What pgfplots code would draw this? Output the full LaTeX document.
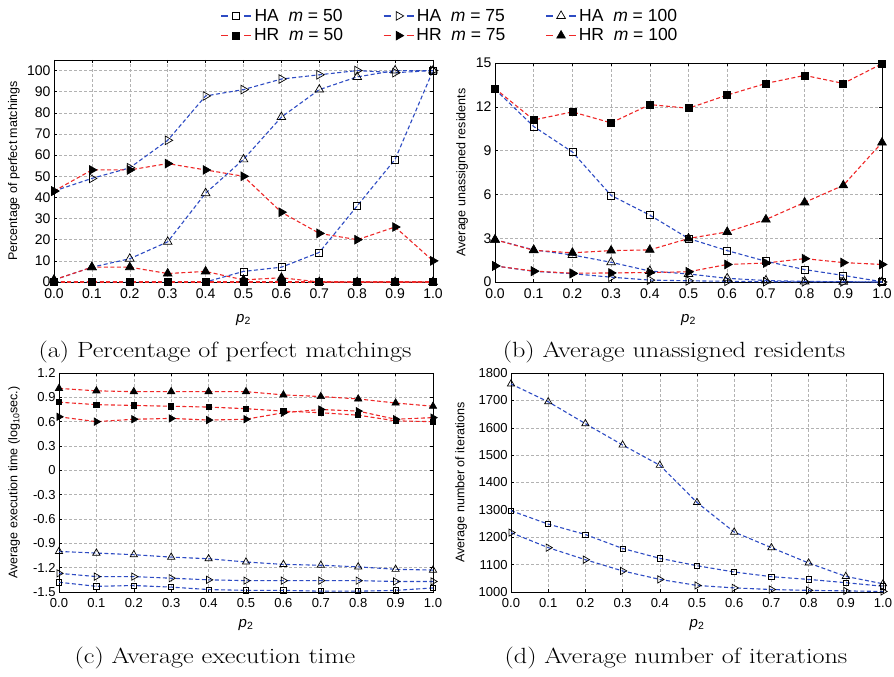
\documentclass[border=0pt]{standalone}
\usepackage{fontspec}
\setsansfont{Liberation Sans}
\usepackage{pgfplots}
\usepackage{pgfplotstable}
\pgfplotsset{compat=1.18}
\definecolor{hablue}{RGB}{45,75,195}
\definecolor{hrred}{RGB}{238,40,40}

\pgfplotstableread{
x ha50 ha75 ha100 hr50 hr75 hr100
0.0 0 43 1 0 43 1
0.1 0 49 7 0 53 7
0.2 0 54 11 0 53 7
0.3 0 67 19 0 56 4
0.4 0 88 42 0 53 5
0.5 5 91 58 0 50 1
0.6 7 96 78 0 33 2
0.7 14 98 91 0 23 0
0.8 36 100 97 0 20 0
0.9 58 99 100 0 26 0
1.0 100 100 100 0 10 0
}\tabA
\pgfplotstableread{
x ha50 ha75 ha100 hr50 hr75 hr100
0.0 13.2 1.1 2.9 13.25 1.1 2.9
0.1 10.65 0.73 2.2 11.1 0.75 2.17
0.2 8.9 0.57 1.85 11.65 0.6 2.0
0.3 5.93 0.33 1.35 10.9 0.62 2.15
0.4 4.58 0.13 0.75 12.15 0.65 2.2
0.5 2.98 0.08 0.55 11.9 0.7 2.98
0.6 2.15 0.05 0.25 12.8 1.2 3.43
0.7 1.42 0.02 0.1 13.6 1.3 4.28
0.8 0.85 0.01 0.04 14.15 1.6 5.45
0.9 0.45 0.01 0.02 13.6 1.33 6.62
1.0 0.02 0.0 0.0 14.95 1.2 9.55
}\tabB
\pgfplotstableread{
x ha50 ha75 ha100 hr50 hr75 hr100
0.0 -1.38 -1.27 -1.00 0.84 0.66 1.01
0.1 -1.43 -1.31 -1.02 0.81 0.60 0.98
0.2 -1.42 -1.31 -1.04 0.80 0.63 0.97
0.3 -1.44 -1.33 -1.07 0.79 0.64 0.97
0.4 -1.47 -1.35 -1.09 0.78 0.62 0.97
0.5 -1.48 -1.36 -1.13 0.76 0.63 0.97
0.6 -1.48 -1.36 -1.16 0.73 0.71 0.93
0.7 -1.49 -1.36 -1.17 0.71 0.75 0.91
0.8 -1.49 -1.36 -1.19 0.68 0.73 0.88
0.9 -1.48 -1.37 -1.22 0.61 0.63 0.83
1.0 -1.45 -1.37 -1.23 0.60 0.65 0.79
}\tabC
\pgfplotstableread{
x ha50 ha75 ha100
0.0 1297 1217 1760
0.1 1248 1162 1695
0.2 1210 1118 1615
0.3 1159 1077 1537
0.4 1123 1046 1463
0.5 1096 1024 1327
0.6 1073 1015 1219
0.7 1056 1009 1162
0.8 1046 1006 1106
0.9 1034 1004 1057
1.0 1021 1002 1030
}\tabD

\def\sqsz{3.5bp}
\def\trsz{5bp}
\def\tkfont{\sffamily\fontsize{14bp}{16bp}\selectfont}
\pgfplotsset{
  base/.style={
    scale only axis, clip=false,
    xmin=0, xmax=1,
    xtick={0,0.1,0.2,0.3,0.4,0.5,0.6,0.7,0.8,0.9,1},
    xticklabel style={/pgf/number format/fixed,/pgf/number format/fixed zerofill,/pgf/number format/precision=1, yshift=-3bp},
    /pgf/number format/assume math mode=true,
    grid=major,
    major grid style={gray!60, dash pattern=on 3bp off 2bp, line width=0.5bp},
    tick align=inside, major tick length=3bp,
    tick style={black, line width=0.5bp},
    axis line style={black, line width=0.7bp},
    ticklabel style={font=\tkfont},
    xlabel={\textit{p}\textsubscript{2}},
    xlabel style={font=\sffamily\fontsize{15bp}{17bp}\selectfont, anchor=center},
    ylabel style={font=\sffamily\fontsize{12.5bp}{14bp}\selectfont, anchor=center},
  },
  legimg/.style={legend image code/.code={%
    \draw[draw=#1, solid, line width=1.4bp] (0bp,0bp) -- (7bp,0bp);
    \draw[draw=#1, solid, line width=1.4bp] (23bp,0bp) -- (30bp,0bp);
    \draw[##1, draw=none] plot coordinates {(15bp,0bp)};}},
  ha/.style={draw=hablue, line width=1.1bp, dash pattern=on 4bp off 2.5bp, legimg=hablue},
  hr/.style={draw=hrred, line width=1.1bp, dash pattern=on 4bp off 2.5bp, legimg=hrred},
  HA50/.style={ha, mark=square, mark options={solid, draw=black, fill=none, line width=0.7bp, mark size=\sqsz}},
  HR50/.style={hr, mark=square*, mark options={solid, draw=black, fill=black, line width=0.7bp, mark size=\sqsz}},
  HA75/.style={ha, mark=triangle, mark options={solid, rotate=-90, draw=black, fill=none, line width=0.7bp, mark size=\trsz}},
  HR75/.style={hr, mark=triangle*, mark options={solid, rotate=-90, draw=black, fill=black, line width=0.7bp, mark size=\trsz}},
  HA100/.style={ha, mark=triangle, mark options={solid, draw=black, fill=none, line width=0.7bp, mark size=\trsz}},
  HR100/.style={hr, mark=triangle*, mark options={solid, draw=black, fill=black, line width=0.7bp, mark size=\trsz}},
}

\begin{document}
\begin{tikzpicture}
\useasboundingbox (0bp,0bp) rectangle (894bp,677bp);

% (a)
\begin{axis}[base, at={(54bp,395bp)}, anchor=south west, width=379bp, height=222bp,
  ymin=0, ymax=105, ytick={0,10,...,100},
  xlabel style={at={(axis description cs:0.5,-0.171)}},
  ylabel={Percentage of perfect matchings},
  ylabel style={at={(axis description cs:-0.106,0.5)}},
  legend columns=3,
  legend style={at={(axis description cs:1.045,1.06)}, anchor=south, draw=none, fill=none,
    font=\sffamily\fontsize{17.5bp}{19bp}\selectfont,
    /tikz/every even column/.append style={column sep=38bp},
    row sep=2bp},
]
\addplot[HA50] table[x=x,y=ha50]{\tabA}; \addlegendentry{HA~~\textit{m} = 50}
\addplot[HA75] table[x=x,y=ha75]{\tabA}; \addlegendentry{HA~~\textit{m} = 75}
\addplot[HA100] table[x=x,y=ha100]{\tabA}; \addlegendentry{HA~~\textit{m} = 100}
\addplot[HR50] table[x=x,y=hr50]{\tabA}; \addlegendentry{HR~~\textit{m} = 50}
\addplot[HR75] table[x=x,y=hr75]{\tabA}; \addlegendentry{HR~~\textit{m} = 75}
\addplot[HR100] table[x=x,y=hr100]{\tabA}; \addlegendentry{HR~~\textit{m} = 100}
\end{axis}

% (b)
\begin{axis}[base, at={(495bp,395bp)}, anchor=south west, width=387bp, height=219bp,
  ymin=0, ymax=15, ytick={0,3,...,15},
  xlabel style={at={(axis description cs:0.5,-0.174)}},
  ylabel={Average unassigned residents},
  ylabel style={at={(axis description cs:-0.085,0.5)}},
]
\addplot[HA50] table[x=x,y=ha50]{\tabB};
\addplot[HA75] table[x=x,y=ha75]{\tabB};
\addplot[HA100] table[x=x,y=ha100]{\tabB};
\addplot[HR50] table[x=x,y=hr50]{\tabB};
\addplot[HR75] table[x=x,y=hr75]{\tabB};
\addplot[HR100] table[x=x,y=hr100]{\tabB};
\end{axis}

\def\sqsz{2.6bp}
\def\trsz{4.2bp}
\def\tkfont{\sffamily\fontsize{13bp}{15bp}\selectfont}
% (c)
\begin{axis}[base, at={(59bp,85bp)}, anchor=south west, width=374bp, height=219bp,
  ymin=-1.5, ymax=1.2, ytick={-1.5,-1.2,-0.9,-0.6,-0.3,0,0.3,0.6,0.9,1.2},
  yticklabel style={/pgf/number format/fixed,/pgf/number format/precision=1},
  xlabel style={at={(axis description cs:0.5,-0.151)}},
  ylabel={Average execution time (log\textsubscript{10}sec.)},
  ylabel style={at={(axis description cs:-0.12,0.5)}},
]
\addplot[HA50] table[x=x,y=ha50]{\tabC};
\addplot[HA75] table[x=x,y=ha75]{\tabC};
\addplot[HA100] table[x=x,y=ha100]{\tabC};
\addplot[HR50] table[x=x,y=hr50]{\tabC};
\addplot[HR75] table[x=x,y=hr75]{\tabC};
\addplot[HR100] table[x=x,y=hr100]{\tabC};
\end{axis}

% (d)
\begin{axis}[base, at={(511bp,85bp)}, anchor=south west, width=372bp, height=219bp,
  ymin=1000, ymax=1800, ytick={1000,1100,...,1800},
  yticklabel style={/pgf/number format/1000 sep={}},
  xlabel style={at={(axis description cs:0.5,-0.151)}},
  ylabel={Average number of iterations},
  ylabel style={at={(axis description cs:-0.134,0.5)}},
]
\addplot[HA50] table[x=x,y=ha50]{\tabD};
\addplot[HA75] table[x=x,y=ha75]{\tabD};
\addplot[HA100] table[x=x,y=ha100]{\tabD};
\end{axis}

\node[font=\fontsize{22bp}{26bp}\selectfont, xscale=1.19] at (225bp,325bp) {(a) Percentage of perfect matchings};
\node[font=\fontsize{22bp}{26bp}\selectfont, xscale=1.19] at (674bp,325bp) {(b) Average unassigned residents};
\node[font=\fontsize{22bp}{26bp}\selectfont, xscale=1.19] at (215bp,19bp) {(c) Average execution time};
\node[font=\fontsize{22bp}{26bp}\selectfont, xscale=1.19] at (676bp,19bp) {(d) Average number of iterations};
\end{tikzpicture}
\end{document}
